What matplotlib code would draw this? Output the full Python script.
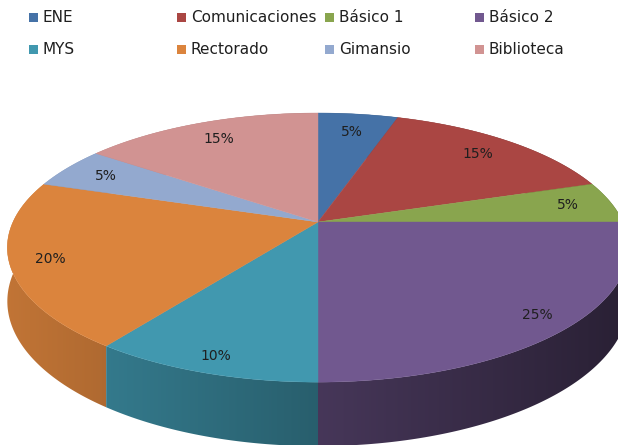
import numpy as np
import matplotlib.pyplot as plt
from matplotlib.colors import to_rgb
from matplotlib.patches import Polygon

plt.rcParams['font.family'] = ['DejaVu Sans']

# Data
categories = ['ENE', 'Comunicaciones', 'Básico 1', 'Básico 2',
              'MYS', 'Rectorado', 'Gimansio', 'Biblioteca']
values = [5, 15, 5, 25, 10, 20, 5, 15]
colors = ['#4572A7', '#AA4643', '#89A54E', '#71588F',
          '#4198AF', '#DB843D', '#93A9CF', '#D19392']

# Projection settings (pixels, y downwards)
W, H = 618, 445
cx, cy = 318, 222
a, b = 305, 129.7
k = 0.19
depth_front = 64


def project(theta, r=1.0):
    # theta: degrees clockwise from 12 o'clock
    t = np.radians(theta)
    u = r * np.sin(t)
    v = r * np.cos(t)
    w = 1 + k * v
    return cx + a * u / w, cy - b * v / w


def depth(theta):
    v = np.cos(np.radians(theta))
    return depth_front * (1 - k) / (1 + k * v)


fig = plt.figure(figsize=(W / 100, H / 100), dpi=100)
ax = fig.add_axes([0, 0, 1, 1])
ax.set_xlim(0, W)
ax.set_ylim(H, 0)
ax.axis('off')

total = float(sum(values))
bounds = np.concatenate([[0], np.cumsum(values)]) / total * 360

# Side walls: horizontal gradient (darker to the right), clipped to each wall
shade = 0.88 - 0.5 * (np.arange(W) + 0.5 - 10) / 600
order = sorted(range(len(values)),
               key=lambda i: -np.cos(np.radians((bounds[i] + bounds[i + 1]) / 2)))
for i in order:
    th = np.linspace(bounds[i], bounds[i + 1], 120)
    xs, ys = project(th)
    ds = depth(th)
    px = np.concatenate([xs, xs[::-1]])
    py = np.concatenate([ys, (ys + ds)[::-1]])
    wall = Polygon(np.column_stack([px, py]), closed=True,
                   fc='none', ec='none', transform=ax.transData)
    ax.add_patch(wall)
    img = np.clip(shade[None, :, None] * np.array(to_rgb(colors[i]))[None, None, :], 0, 1)
    im = ax.imshow(img, extent=(0, W, H, 0), aspect='auto',
                   interpolation='bilinear', zorder=1)
    im.set_clip_path(wall)

# Top faces
for i in range(len(values)):
    th = np.linspace(bounds[i], bounds[i + 1], 80)
    xs, ys = project(th)
    ax.fill(np.concatenate([[cx], xs]), np.concatenate([[cy], ys]),
            color=colors[i], lw=0.3, ec=colors[i], zorder=2)

# Percentage labels (pushed a bit further out towards the front)
for i in range(len(values)):
    mid = (bounds[i] + bounds[i + 1]) / 2
    r = 0.86 - 0.05 * np.cos(np.radians(mid))
    lx, ly = project(mid, r)
    ax.text(lx, ly, f'{values[i] / total * 100:.0f}%', ha='center',
            va='center', fontsize=10, color='#1f1f1f', zorder=3)

# Legend (2 rows x 4 columns)
col_x = [29, 177, 325, 475]
for i, name in enumerate(categories):
    col, row = i % 4, i // 4
    x = col_x[col]
    y = 17.5 + row * 32
    ax.fill([x, x + 9, x + 9, x], [y - 4.5, y - 4.5, y + 4.5, y + 4.5],
            color=colors[i], lw=0, zorder=3)
    ax.text(x + 14, y, name, ha='left', va='center', fontsize=11,
            color='#1f1f1f', zorder=3)

ax.set_xlim(0, W)
ax.set_ylim(H, 0)
fig.savefig('out.png', dpi=100)
